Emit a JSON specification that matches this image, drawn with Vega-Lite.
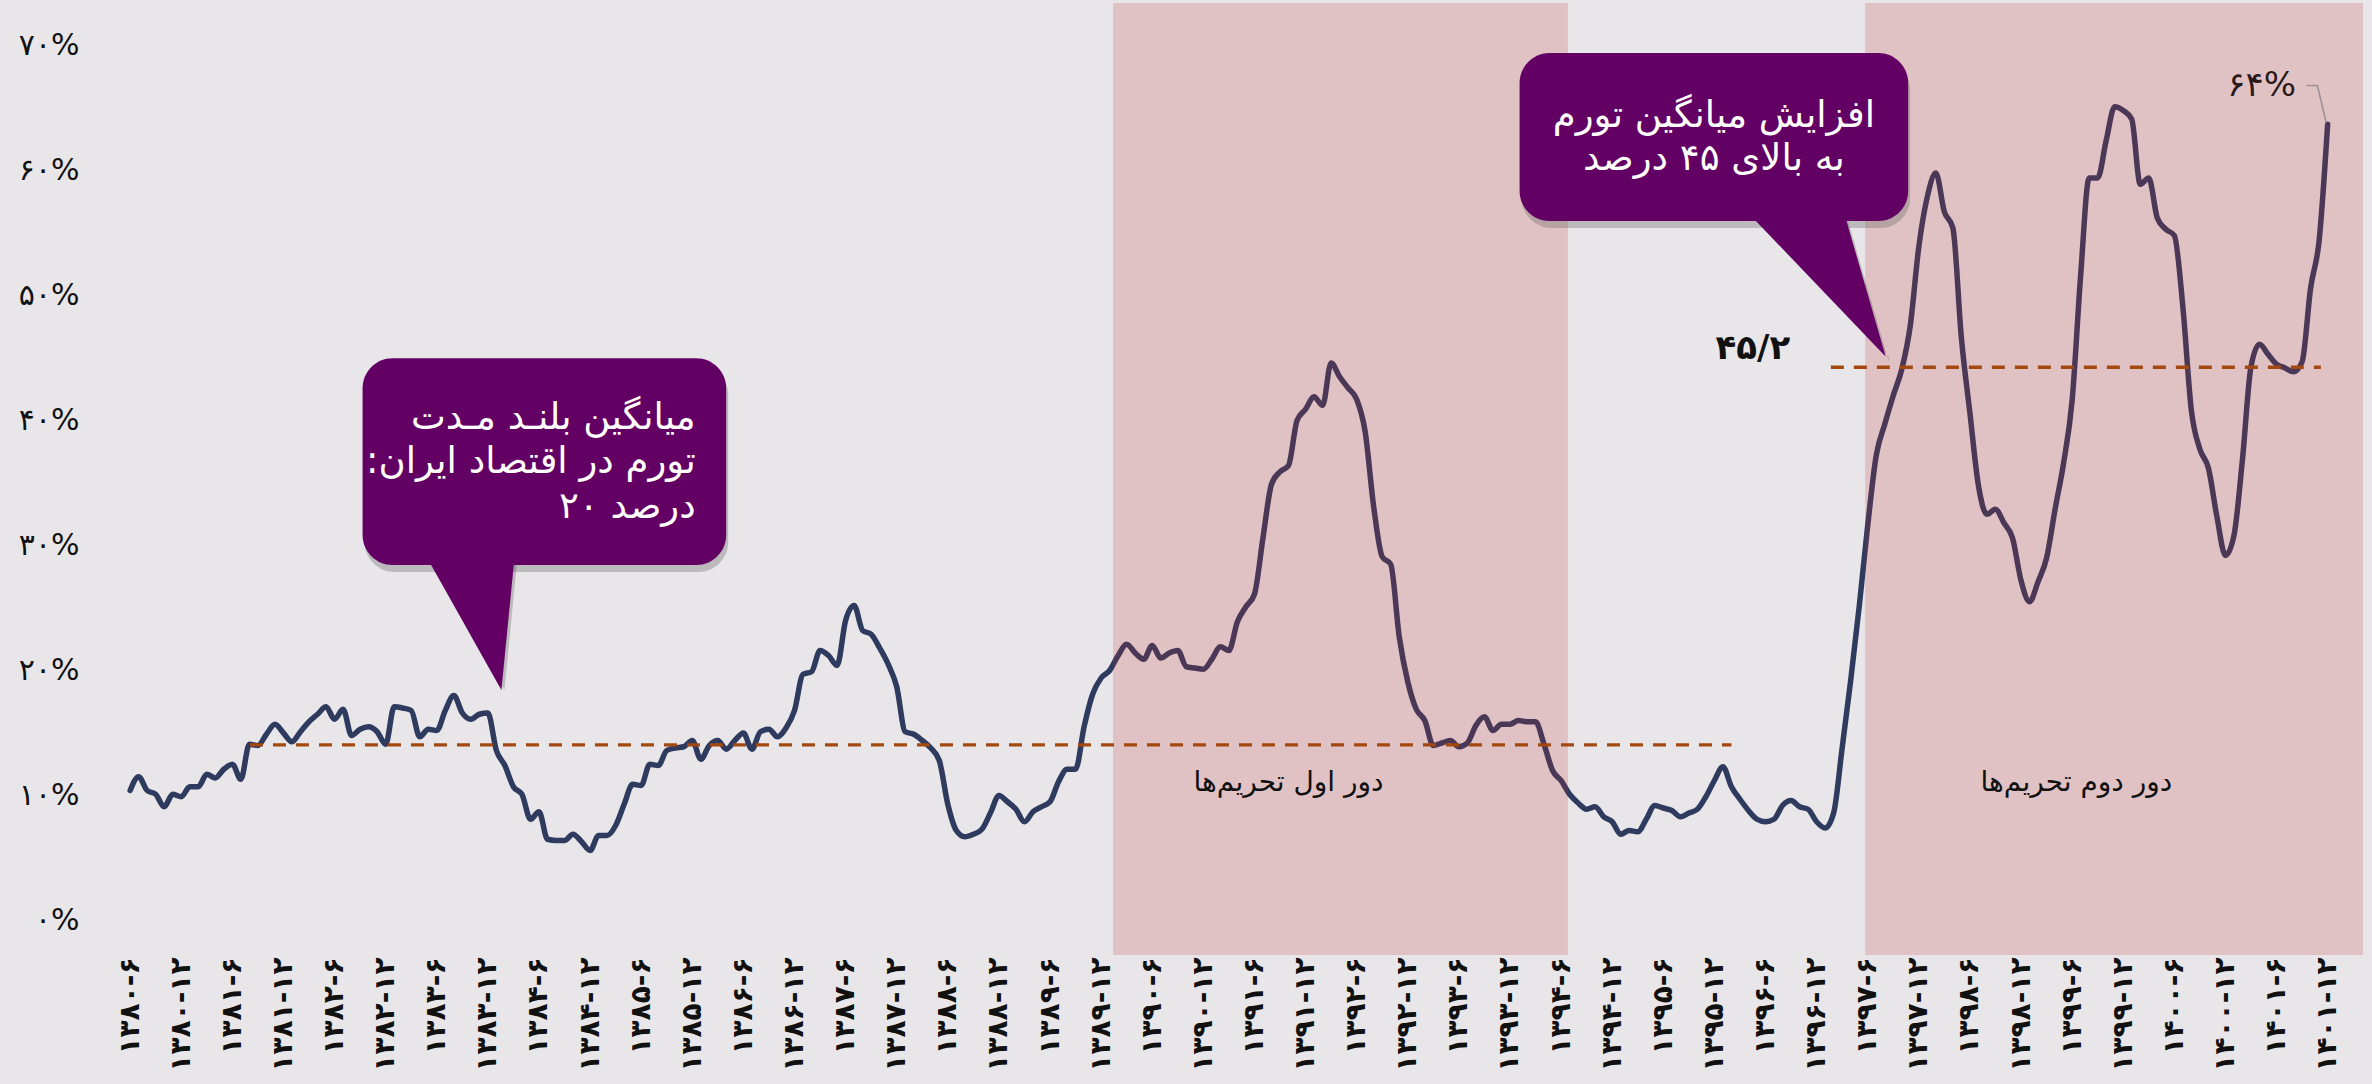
{
  "$schema": "https://vega.github.io/schema/vega-lite/v6.json",
  "width": 2235,
  "height": 952,
  "autosize": {"type": "none"},
  "padding": {"left": 128, "top": 3, "right": 9, "bottom": 129},
  "background": "#e8e6e9",
  "config": {"view": {"stroke": null}, "text": {"font": "DejaVu Sans"}},
  "datasets": {
    "series": [
      {"x":0,"y":10.8},{"x":1,"y":11.9},{"x":2,"y":10.8},{"x":3,"y":10.5},{"x":4,"y":9.5},{"x":5,"y":10.5},{"x":6,"y":10.3},{"x":7,"y":11.1},{"x":8,"y":11.1},{"x":9,"y":12.1},
      {"x":10,"y":11.8},{"x":11,"y":12.5},{"x":12,"y":12.9},{"x":13,"y":11.7},{"x":14,"y":14.5},{"x":15,"y":14.4},{"x":16,"y":15.3},{"x":17,"y":16.1},{"x":18,"y":15.4},{"x":19,"y":14.7},
      {"x":20,"y":15.5},{"x":21,"y":16.3},{"x":22,"y":16.9},{"x":23,"y":17.5},{"x":24,"y":16.5},{"x":25,"y":17.3},{"x":26,"y":15.2},{"x":27,"y":15.7},{"x":28,"y":15.9},{"x":29,"y":15.5},
      {"x":30,"y":14.5},{"x":31,"y":17.5},{"x":32,"y":17.4},{"x":33,"y":17.2},{"x":34,"y":15.1},{"x":35,"y":15.7},{"x":36,"y":15.6},{"x":37,"y":17.2},{"x":38,"y":18.4},{"x":39,"y":17.0},
      {"x":40,"y":16.5},{"x":41,"y":16.9},{"x":42,"y":17.0},{"x":43,"y":14.0},{"x":44,"y":12.8},{"x":45,"y":11.1},{"x":46,"y":10.5},{"x":47,"y":8.5},{"x":48,"y":9.1},{"x":49,"y":6.9},
      {"x":50,"y":6.8},{"x":51,"y":6.8},{"x":52,"y":7.3},{"x":53,"y":6.7},{"x":54,"y":6.0},{"x":55,"y":7.2},{"x":56,"y":7.2},{"x":57,"y":8.0},{"x":58,"y":9.7},{"x":59,"y":11.3},
      {"x":60,"y":11.2},{"x":61,"y":12.9},{"x":62,"y":12.8},{"x":63,"y":14.0},{"x":64,"y":14.2},{"x":65,"y":14.3},{"x":66,"y":14.8},{"x":67,"y":13.3},{"x":68,"y":14.4},{"x":69,"y":14.8},
      {"x":70,"y":14.1},{"x":71,"y":14.8},{"x":72,"y":15.4},{"x":73,"y":14.1},{"x":74,"y":15.5},{"x":75,"y":15.7},{"x":76,"y":15.1},{"x":77,"y":15.8},{"x":78,"y":17.2},{"x":79,"y":20.1},
      {"x":80,"y":20.3},{"x":81,"y":22.0},{"x":82,"y":21.6},{"x":83,"y":20.8},{"x":84,"y":24.4},{"x":85,"y":25.6},{"x":86,"y":23.6},{"x":87,"y":23.3},{"x":88,"y":22.2},{"x":89,"y":20.9},
      {"x":90,"y":19.1},{"x":91,"y":15.5},{"x":92,"y":15.3},{"x":93,"y":14.8},{"x":94,"y":14.2},{"x":95,"y":13.2},{"x":96,"y":9.7},{"x":97,"y":7.6},{"x":98,"y":7.1},{"x":99,"y":7.3},
      {"x":100,"y":7.7},{"x":101,"y":9.0},{"x":102,"y":10.4},{"x":103,"y":9.9},{"x":104,"y":9.3},{"x":105,"y":8.3},{"x":106,"y":9.1},{"x":107,"y":9.5},{"x":108,"y":9.9},{"x":109,"y":11.5},
      {"x":110,"y":12.5},{"x":111,"y":12.5},{"x":112,"y":15.9},{"x":113,"y":18.5},{"x":114,"y":19.8},{"x":115,"y":20.4},{"x":116,"y":21.6},{"x":117,"y":22.5},{"x":118,"y":21.8},{"x":119,"y":21.3},
      {"x":120,"y":22.4},{"x":121,"y":21.4},{"x":122,"y":21.8},{"x":123,"y":22.0},{"x":124,"y":20.7},{"x":125,"y":20.6},{"x":126,"y":20.5},{"x":127,"y":21.3},{"x":128,"y":22.3},{"x":129,"y":22.0},
      {"x":130,"y":24.3},{"x":131,"y":25.5},{"x":132,"y":26.5},{"x":133,"y":31.0},{"x":134,"y":35.3},{"x":135,"y":36.3},{"x":136,"y":36.8},{"x":137,"y":40.4},{"x":138,"y":41.3},{"x":139,"y":42.3},
      {"x":140,"y":41.6},{"x":141,"y":45.0},{"x":142,"y":43.9},{"x":143,"y":43.0},{"x":144,"y":42.1},{"x":145,"y":39.5},{"x":146,"y":33.5},{"x":147,"y":29.5},{"x":148,"y":28.9},{"x":149,"y":23.1},
      {"x":150,"y":19.5},{"x":151,"y":17.3},{"x":152,"y":16.4},{"x":153,"y":14.4},{"x":154,"y":14.6},{"x":155,"y":14.8},{"x":156,"y":14.3},{"x":157,"y":14.6},{"x":158,"y":16.0},{"x":159,"y":16.7},
      {"x":160,"y":15.6},{"x":161,"y":16.1},{"x":162,"y":16.1},{"x":163,"y":16.4},{"x":164,"y":16.3},{"x":165,"y":16.3},{"x":166,"y":14.5},{"x":167,"y":12.4},{"x":168,"y":11.6},{"x":169,"y":10.5},
      {"x":170,"y":9.8},{"x":171,"y":9.3},{"x":172,"y":9.5},{"x":173,"y":8.7},{"x":174,"y":8.3},{"x":175,"y":7.3},{"x":176,"y":7.6},{"x":177,"y":7.5},{"x":178,"y":8.5},{"x":179,"y":9.6},
      {"x":180,"y":9.4},{"x":181,"y":9.2},{"x":182,"y":8.7},{"x":183,"y":9.0},{"x":184,"y":9.3},{"x":185,"y":10.3},{"x":186,"y":11.6},{"x":187,"y":12.7},{"x":188,"y":11.1},{"x":189,"y":10.1},
      {"x":190,"y":9.2},{"x":191,"y":8.5},{"x":192,"y":8.3},{"x":193,"y":8.5},{"x":194,"y":9.6},{"x":195,"y":10.0},{"x":196,"y":9.5},{"x":197,"y":9.3},{"x":198,"y":8.3},{"x":199,"y":7.8},
      {"x":200,"y":9.0},{"x":201,"y":14.2},{"x":202,"y":19.6},{"x":203,"y":25.5},{"x":204,"y":32.0},{"x":205,"y":37.6},{"x":206,"y":40.1},{"x":207,"y":42.4},{"x":208,"y":44.5},{"x":209,"y":48.0},
      {"x":210,"y":54.3},{"x":211,"y":58.3},{"x":212,"y":60.2},{"x":213,"y":57.1},{"x":214,"y":55.8},{"x":215,"y":47.0},{"x":216,"y":41.0},{"x":217,"y":35.2},{"x":218,"y":32.9},{"x":219,"y":33.3},
      {"x":220,"y":32.2},{"x":221,"y":31.0},{"x":222,"y":27.6},{"x":223,"y":25.9},{"x":224,"y":27.5},{"x":225,"y":29.4},{"x":226,"y":33.3},{"x":227,"y":37.0},{"x":228,"y":42.0},{"x":229,"y":52.0},
      {"x":230,"y":59.8},{"x":231,"y":59.8},{"x":232,"y":62.8},{"x":233,"y":65.5},{"x":234,"y":65.2},{"x":235,"y":64.5},{"x":236,"y":59.3},{"x":237,"y":59.8},{"x":238,"y":56.6},{"x":239,"y":55.7},
      {"x":240,"y":55.2},{"x":241,"y":49.5},{"x":242,"y":41.2},{"x":243,"y":38.1},{"x":244,"y":36.6},{"x":245,"y":32.7},{"x":246,"y":29.6},{"x":247,"y":31.2},{"x":248,"y":37.3},{"x":249,"y":44.7},
      {"x":250,"y":46.5},{"x":251,"y":45.7},{"x":252,"y":44.9},{"x":253,"y":44.6},{"x":254,"y":44.3},{"x":255,"y":45.1},{"x":256,"y":51.0},{"x":257,"y":54.8},{"x":258,"y":64.1}
    ],
    "grid": [{"y":0},{"y":10},{"y":20},{"y":30},{"y":40},{"y":50},{"y":60},{"y":70}],
    "periods": [{"x":115.4,"x2":168.8},{"x":203.7,"x2":262.15}],
    "averages": [{"x":14.07,"x2":188.0,"y":14.45},{"x":199.67,"x2":257.2,"y":44.66}],
    "periodLabels": [{"x":136.0,"y":11.4,"t":"دور اول تحریم‌ها"},{"x":228.5,"y":11.4,"t":"دور دوم تحریم‌ها"}],
    "boxes": [{"x":27.29,"x2":69.98,"y":45.38,"y2":28.84},{"x":163.13,"x2":208.75,"y":69.8,"y2":56.36}],
    "pointers": [
      {"p":1,"x":34.71,"y":29.6,"y2":29.6},{"p":1,"x":43.59,"y":29.6,"y2":18.84},{"p":1,"x":45.15,"y":29.6,"y2":29.6},
      {"p":2,"x":189.98,"y":57.0,"y2":57.0},{"p":2,"x":201.24,"y":57.0,"y2":48.98},{"p":2,"x":206.12,"y":45.5,"y2":45.5}
    ],
    "note1": [{"x":66.4,"y":40.6,"t":"میانگین بلنـد مـدت"},{"x":66.4,"y":37.1,"t":"تورم در اقتصاد ایران:‏"},{"x":66.4,"y":33.5,"t":"درصد ۲۰"}],
    "note2": [{"x":185.94,"y":64.8,"t":"افزایش میانگین تورم"},{"x":185.94,"y":61.3,"t":"به بالای ۴۵ درصد"}],
    "lastLabel": [{"x":254.3,"y":67.2,"t":"۶۴%"}],
    "leader": [{"x":255.5,"y":67.2},{"x":256.8,"y":67.2},{"x":257.8,"y":64.3}],
    "avgLabel": [{"x":194.9,"y":46.1,"t":"۴۵/۲"}]
  },
  "encoding": {
    "x": {
      "field": "x", "type": "quantitative",
      "scale": {"domain": [-0.25, 262.15], "nice": false, "zero": false},
      "axis": {
        "title": null, "domain": false, "ticks": false, "grid": false,
        "values": [0,6,12,18,24,30,36,42,48,54,60,66,72,78,84,90,96,102,108,114,120,126,132,138,144,150,156,162,168,174,180,186,192,198,204,210,216,222,228,234,240,246,252,258],
        "labelExpr": "replace(replace(replace(replace(replace(replace(replace(replace(replace(replace((1380+floor(datum.value/12)) + '-' + (datum.value % 12 == 0 ? 6 : 12), regexp('0','g'),'۰'), regexp('1','g'),'۱'), regexp('2','g'),'۲'), regexp('3','g'),'۳'), regexp('4','g'),'۴'), regexp('5','g'),'۵'), regexp('6','g'),'۶'), regexp('7','g'),'۷'), regexp('8','g'),'۸'), regexp('9','g'),'۹')",
        "labelAngle": 270, "labelAlign": "right", "labelBaseline": "middle",
        "labelFont": "DejaVu Sans", "labelFontSize": 28, "labelFontWeight": "bold", "labelColor": "#111111",
        "labelPadding": 2, "labelOverlap": false, "labelBound": false, "labelFlush": false
      }
    },
    "y": {
      "field": "y", "type": "quantitative",
      "scale": {"domain": [-2.36, 73.8], "nice": false, "zero": false},
      "axis": {
        "title": null, "domain": false, "ticks": false, "grid": false,
        "values": [0,10,20,30,40,50,60,70],
        "labelExpr": "replace(replace(replace(replace(replace(replace(replace(replace(datum.value + '%', regexp('0','g'),'۰'), regexp('1','g'),'۱'), regexp('2','g'),'۲'), regexp('3','g'),'۳'), regexp('4','g'),'۴'), regexp('5','g'),'۵'), regexp('6','g'),'۶'), regexp('7','g'),'۷')",
        "labelFont": "DejaVu Sans", "labelFontSize": 30, "labelColor": "#111111",
        "labelPadding": 49, "labelOffset": -5, "labelBaseline": "middle", "labelOverlap": false
      }
    }
  },
  "layer": [
    {
      "data": {"name": "grid"},
      "mark": {"type": "rule", "color": "#d8d6d9", "strokeWidth": 2},
      "encoding": {"x": {"datum": -0.25}, "x2": {"datum": 258.35}}
    },
    {
      "data": {"name": "series"},
      "mark": {"type": "line", "interpolate": "monotone", "color": "#2e3a5e", "strokeWidth": 5.5, "strokeJoin": "round", "strokeCap": "round"},
      "encoding": {}
    },
    {
      "data": {"name": "periods"},
      "mark": {"type": "rect", "color": "#c53235", "opacity": 0.2},
      "encoding": {"x2": {"field": "x2"}, "y": {"value": 0}, "y2": {"value": "height"}}
    },
    {
      "data": {"name": "averages"},
      "mark": {"type": "rule", "color": "#a3480e", "strokeWidth": 3.3, "strokeDash": [13, 10]},
      "encoding": {"x2": {"field": "x2"}}
    },
    {
      "data": {"name": "periodLabels"},
      "mark": {"type": "text", "fontSize": 28, "color": "#111111", "align": "center", "baseline": "middle", "font": "DejaVu Sans"},
      "encoding": {"text": {"field": "t"}}
    },
    {
      "data": {"name": "boxes"},
      "mark": {"type": "rect", "color": "#555555", "opacity": 0.3, "cornerRadius": 30, "xOffset": 2, "yOffset": 7, "x2Offset": 2, "y2Offset": 7},
      "encoding": {"x2": {"field": "x2"}, "y2": {"field": "y2"}}
    },
    {
      "data": {"name": "pointers"},
      "mark": {"type": "area", "color": "#555555", "opacity": 0.3, "xOffset": 3, "yOffset": 5},
      "encoding": {"y2": {"field": "y2"}, "detail": {"field": "p"}}
    },
    {
      "data": {"name": "boxes"},
      "mark": {"type": "rect", "color": "#630064", "cornerRadius": 30},
      "encoding": {"x2": {"field": "x2"}, "y2": {"field": "y2"}}
    },
    {
      "data": {"name": "pointers"},
      "mark": {"type": "area", "color": "#630064"},
      "encoding": {"y2": {"field": "y2"}, "detail": {"field": "p"}}
    },
    {
      "data": {"name": "note1"},
      "mark": {"type": "text", "fontSize": 37, "color": "#ffffff", "align": "right", "baseline": "middle", "font": "DejaVu Sans"},
      "encoding": {"text": {"field": "t"}}
    },
    {
      "data": {"name": "note2"},
      "mark": {"type": "text", "fontSize": 37, "color": "#ffffff", "align": "center", "baseline": "middle", "font": "DejaVu Sans"},
      "encoding": {"text": {"field": "t"}}
    },
    {
      "data": {"name": "leader"},
      "mark": {"type": "line", "color": "#9a8f95", "strokeWidth": 1.5},
      "encoding": {}
    },
    {
      "data": {"name": "lastLabel"},
      "mark": {"type": "text", "fontSize": 34, "color": "#2a1a1a", "align": "right", "baseline": "middle", "font": "DejaVu Sans"},
      "encoding": {"text": {"field": "t"}}
    },
    {
      "data": {"name": "avgLabel"},
      "mark": {"type": "text", "fontSize": 34, "fontWeight": "bold", "color": "#111111", "align": "right", "baseline": "middle", "font": "DejaVu Sans"},
      "encoding": {"text": {"field": "t"}}
    }
  ]
}
